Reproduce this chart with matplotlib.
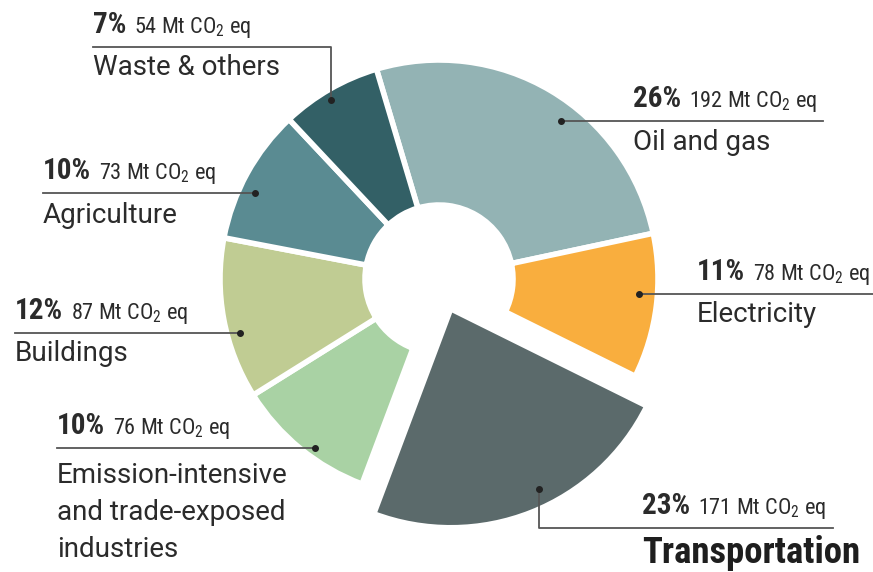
import matplotlib
matplotlib.use("Agg")
import matplotlib.pyplot as plt
import numpy as np

# ---- data ----
categories = ["Oil and gas", "Electricity", "Transportation",
              "Emission-intensive\nand trade-exposed\nindustries",
              "Buildings", "Agriculture", "Waste & others"]
emissions_mt = [192, 78, 171, 76, 87, 73, 54]
shares_pct = [26, 11, 23, 10, 12, 10, 7]
colors = ["#93b3b4", "#f9ae3e", "#5b6a6b", "#a9d2a4", "#c0cc93", "#5a8b92", "#336066"]

COND = ["Roboto Condensed", "Liberation Sans Narrow", "Roboto", "DejaVu Sans"]
REG = ["Roboto", "DejaVu Sans"]
plt.rcParams["font.family"] = COND

W, H = 873, 572
fig = plt.figure(figsize=(W / 100, H / 100), dpi=100)
ax = fig.add_axes([0, 0, 1, 1])


def py(y):
    return H - y


CX, CY = 439, py(279)
R = 219
R_IN = 74

wedges, _ = ax.pie(emissions_mt, colors=colors, startangle=106.6, counterclock=False,
                   radius=R, center=(CX, CY),
                   wedgeprops=dict(width=R - R_IN, edgecolor="white", linewidth=4))

# exploded, full (no hole) transportation wedge
tw = wedges[2]
tm = np.deg2rad((tw.theta1 + tw.theta2) / 2)
tw.set_width(None)
tw.set_center((CX + 32 * np.cos(tm), CY + 32 * np.sin(tm)))

ax.set_xlim(0, W)
ax.set_ylim(0, H)
ax.set_aspect("equal")
ax.axis("off")

renderer = fig.canvas.get_renderer()

# ---- label layout (pixel coords, y down) ----
layout = [
    dict(da=-7.0, rf=0.91, tx=633, lend=823, elbow=None, noff=29),
    dict(da=3.0, rf=0.915, tx=697, lend=873, elbow=None, noff=28),
    dict(da=4.7, rf=0.915, tx=642, lend=833, elbow=528, noff=35),
    dict(da=3.0, rf=0.955, tx=57, lend=None, elbow=None, noff=35),
    dict(da=4.6, rf=0.94, tx=15, lend=None, elbow=None, noff=28),
    dict(da=3.7, rf=0.93, tx=43, lend=None, elbow=None, noff=30),
    dict(da=1.2, rf=0.955, tx=93, lend=None, elbow=47, noff=28),
]

LINE_C = "#555555"
TXT_C = "#2b2b2b"
LINE_STEP = 37

for i, w in enumerate(wedges):
    L = layout[i]
    mid = (w.theta1 + w.theta2) / 2 + L["da"]
    cx, cy = w.center
    dx = cx + L["rf"] * R * np.cos(np.deg2rad(mid))
    dy = cy + L["rf"] * R * np.sin(np.deg2rad(mid))
    ax.plot([dx], [dy], "o", color="#222222", markersize=4, zorder=5)

    x_end = L["lend"] if L["lend"] is not None else L["tx"]
    if L["elbow"] is None:
        ly = dy
        ax.plot([dx, x_end], [ly, ly], color=LINE_C, lw=1.3, zorder=4)
    else:
        ly = py(L["elbow"])
        ax.plot([dx, dx, x_end], [dy, ly, ly], color=LINE_C, lw=1.3, zorder=4)

    tx = L["tx"]
    t1 = ax.text(tx, ly + 14, f"{shares_pct[i]}%", fontsize=21, fontweight="bold",
                 color=TXT_C, ha="left", va="baseline")
    bb = t1.get_window_extent(renderer)
    ax.text(bb.x1 + 8, ly + 14, f"{emissions_mt[i]} Mt CO$_\\mathregular{{2}}$ eq",
            fontsize=16, color=TXT_C, ha="left", va="baseline")
    if i == 2:
        ax.text(tx, ly - L["noff"], categories[i], fontsize=26.5, fontweight="bold",
                color="#1e1e1e", ha="left", va="baseline")
    else:
        for k, line in enumerate(categories[i].split("\n")):
            ax.text(tx, ly - L["noff"] - k * LINE_STEP, line, fontsize=20, color=TXT_C,
                    family=REG, ha="left", va="baseline")

fig.savefig("out.png", dpi=100, facecolor="white")
